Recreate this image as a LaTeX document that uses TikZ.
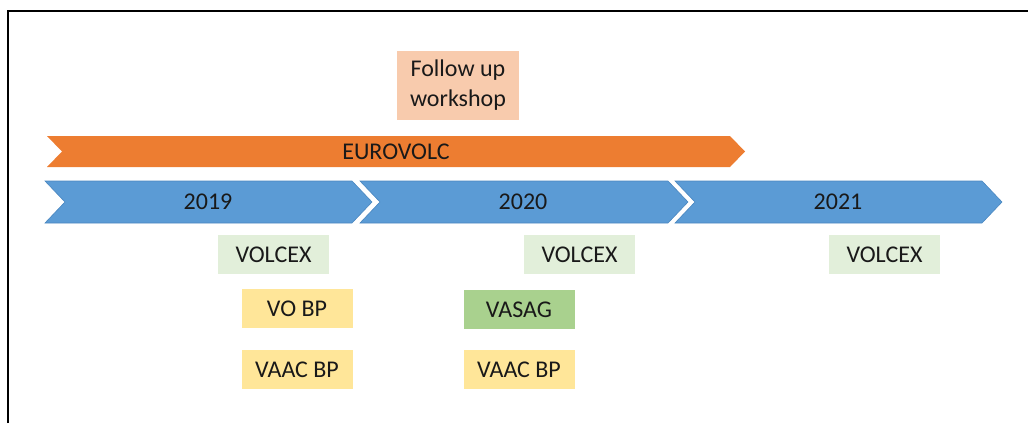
\documentclass[tikz,border=0pt]{standalone}
\usepackage{fontspec}
\setmainfont{Carlito}
\definecolor{blu}{HTML}{5B9BD5}
\definecolor{bluedge}{HTML}{4A87C0}
\definecolor{ora}{HTML}{ED7D31}
\definecolor{peach}{HTML}{F8CBAD}
\definecolor{lgreen}{HTML}{E2EFDA}
\definecolor{mgreen}{HTML}{A9D18E}
\definecolor{yel}{HTML}{FFE699}
\begin{document}
\begin{tikzpicture}[x=1pt,y=-1pt,
  lbl/.style={font=\fontsize{24}{30}\selectfont, text=black!90},
  box/.style={lbl, inner sep=0pt, minimum width=111pt, minimum height=39pt},
  yearchev/.style={fill=blu, draw=bluedge, line width=0.6pt},
  eurochev/.style={fill=ora, draw=none}]
\useasboundingbox (0,0) rectangle (1028,423);
% frame (cropped)
\draw[line width=2pt] (8,423) -- (8,11) -- (1028,11);
% orange chevron
\path[eurochev] (47,136) -- (730,136) -- (745,151.5) -- (730,167) -- (47,167) -- (62,151.5) -- cycle;
\node[lbl] (euro) at (396,152) {EUROVOLC};
% year chevrons
\path[yearchev] (45,181) -- (352,181) -- (372,202) -- (352,223) -- (45,223) -- (65,202) -- cycle;
\path[yearchev] (360,181) -- (668,181) -- (688,202) -- (668,223) -- (360,223) -- (380,202) -- cycle;
\path[yearchev] (675,181) -- (982,181) -- (1002,202) -- (982,223) -- (675,223) -- (695,202) -- cycle;
\node[lbl] (y2019) at (208,202) {2019};
\node[lbl] (y2020) at (523,202) {2020};
\node[lbl] (y2021) at (838,202) {2021};
% boxes
\node[box, fill=peach, minimum width=122pt, minimum height=69pt, align=center] (follow) at (458,85.5) {Follow up\\workshop};
\node[box, fill=lgreen] (volcex1) at (273.5,254.5) {VOLCEX};
\node[box, fill=lgreen] (volcex2) at (579.5,254.5) {VOLCEX};
\node[box, fill=lgreen] (volcex3) at (884.5,254.5) {VOLCEX};
\node[box, fill=yel] (vobp) at (297,308.5) {VO BP};
\node[box, fill=yel] (vaac1) at (297,369.5) {VAAC BP};
\node[box, fill=mgreen] (vasag) at (519,309.5) {VASAG};
\node[box, fill=yel] (vaac2) at (519,369.5) {VAAC BP};
\end{tikzpicture}
\end{document}
